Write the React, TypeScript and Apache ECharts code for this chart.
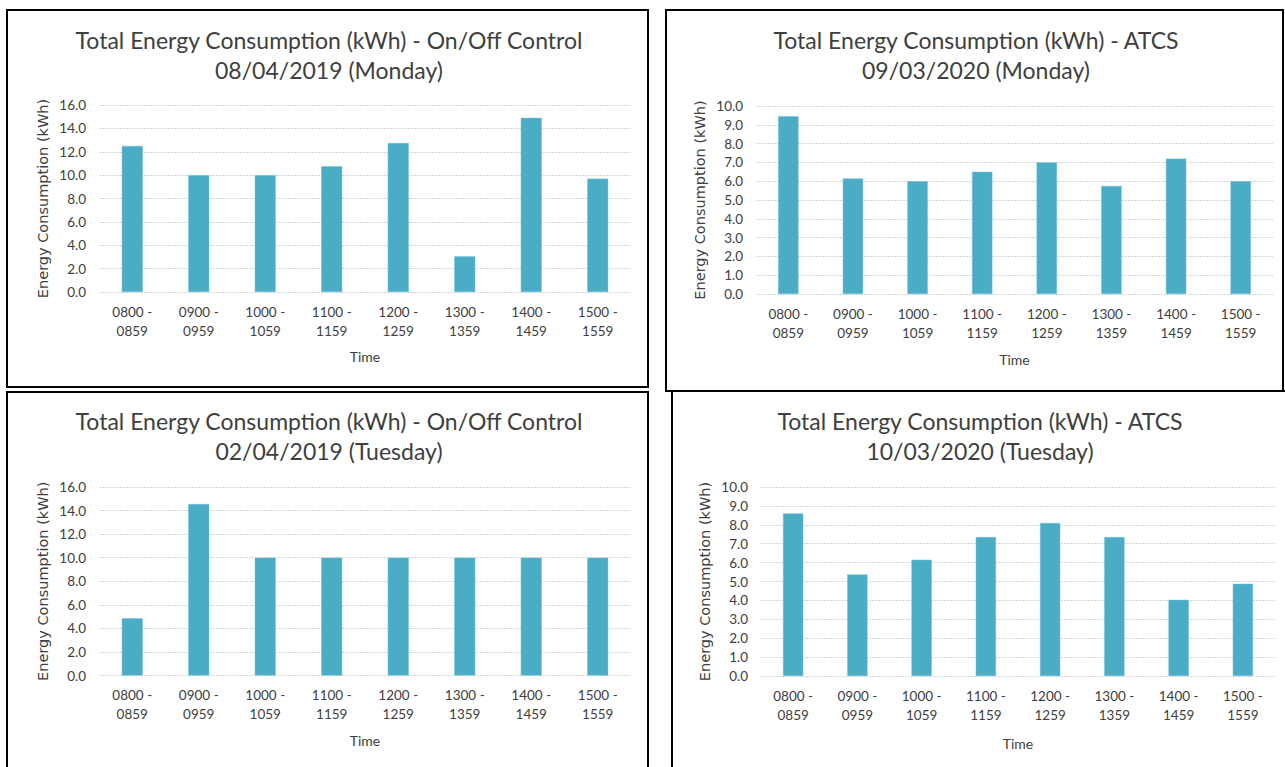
import React, { useEffect, useRef } from "react";
import * as echarts from "echarts";

const timeSlots = ["0800 - 0859", "0900 - 0959", "1000 - 1059", "1100 - 1159", "1200 - 1259", "1300 - 1359", "1400 - 1459", "1500 - 1559"];

const onOffMonday = [12.5, 10.0, 10.0, 10.75, 12.75, 3.05, 14.9, 9.7];
const atcsMonday = [9.45, 6.15, 6.0, 6.5, 7.0, 5.75, 7.2, 6.0];
const onOffTuesday = [4.85, 14.55, 10.0, 10.0, 10.0, 10.0, 10.0, 10.0];
const atcsTuesday = [8.6, 5.37, 6.15, 7.35, 8.1, 7.35, 4.03, 4.88];

const titles = [
  ["Total Energy Consumption (kWh) - On/Off Control", "08/04/2019 (Monday)"],
  ["Total Energy Consumption (kWh) - ATCS", "09/03/2020 (Monday)"],
  ["Total Energy Consumption (kWh) - On/Off Control", "02/04/2019 (Tuesday)"],
  ["Total Energy Consumption (kWh) - ATCS", "10/03/2020 (Tuesday)"],
];
const yMax = [16, 10, 16, 10];
const yStep = [2, 1, 2, 1];
const yAxisName = "Energy Consumption (kWh)";
const xAxisName = "Time";

const FONT = "Lato";
const NAME_FONT = "DejaVu Sans";
const BAR = "#4BACC6";

// layout (pixels)
const grids = [
  { left: 99, top: 105, width: 532, height: 187 },
  { left: 756, top: 106, width: 517, height: 188 },
  { left: 99, top: 487, width: 532, height: 188.5 },
  { left: 761, top: 487, width: 514, height: 189 },
];
const panels = [
  { x: 7, y: 10, w: 641, h: 377 },
  { x: 666, y: 10, w: 617, h: 381 },
  { x: 7, y: 392, w: 641, h: 400 },
  { x: 672, y: 391, w: 640, h: 400 },
];
const titleCenters = [
  { x: 329, y: 40 },
  { x: 976, y: 40 },
  { x: 329, y: 421 },
  { x: 980, y: 421 },
];

export default function App() {
  const ref = useRef<HTMLDivElement>(null);
  useEffect(() => {
    document.body.style.margin = "0";
    const chart = echarts.init(ref.current!, null, { renderer: "svg" });
    const data = [onOffMonday, atcsMonday, onOffTuesday, atcsTuesday];
    const graphic: any[] = [];
    panels.forEach((p) => {
      graphic.push({
        type: "rect",
        shape: { x: p.x, y: p.y, width: p.w, height: p.h },
        style: { fill: "none", stroke: "#000", lineWidth: 2 },
        silent: true,
      });
    });
    titles.forEach((t, i) => {
      const c = titleCenters[i];
      t.forEach((line, j) => {
        graphic.push({
          type: "text",
          x: c.x,
          y: c.y + j * 30,
          style: {
            text: line,
            fontFamily: FONT,
            fontSize: 23,
            fill: "#404040",
            align: "center",
            verticalAlign: "middle",
          },
        });
      });
    });
    chart.setOption({
      animation: false,
      backgroundColor: "#fff",
      graphic,
      grid: grids.map((g) => ({ ...g, containLabel: false })),
      xAxis: grids.map((_, i) => ({
        type: "category",
        gridIndex: i,
        data: timeSlots,
        name: xAxisName,
        nameLocation: "middle",
        nameGap: i === 0 ? 57 : i === 1 ? 58 : i === 2 ? 58 : 60,
        nameTextStyle: { fontFamily: FONT, fontSize: 14, color: "#404040" },
        axisLine: { show: false },
        axisTick: { show: false },
        axisLabel: {
          interval: 0,
          margin: 10,
          fontFamily: FONT,
          fontSize: 13.5,
          lineHeight: 19,
          color: "#404040",
          formatter: (v: string) => v.replace(" - ", " -\n"),
        },
      })),
      yAxis: grids.map((_, i) => ({
        type: "value",
        gridIndex: i,
        min: 0,
        max: yMax[i],
        interval: yStep[i],
        name: yAxisName,
        nameLocation: "middle",
        nameGap: 49,
        nameTextStyle: { fontFamily: NAME_FONT, fontSize: 14.5, color: "#404040" },
        axisLine: { show: false },
        axisTick: { show: false },
        axisLabel: {
          margin: 13,
          fontFamily: FONT,
          fontSize: 13.5,
          color: "#404040",
          formatter: (v: number) => v.toFixed(1),
        },
        splitLine: { lineStyle: { color: "#d4d4d4", type: [2, 1], width: 1 } },
      })),
      series: data.map((d, i) => ({
        type: "bar",
        xAxisIndex: i,
        yAxisIndex: i,
        data: d,
        barWidth: "31.5%",
        itemStyle: { color: BAR, borderColor: "#6cc0d6", borderWidth: 0.5 },
      })),
    });
    return () => chart.dispose();
  }, []);
  return <div ref={ref} style={{ width: 1285, height: 767 }} />;
}
